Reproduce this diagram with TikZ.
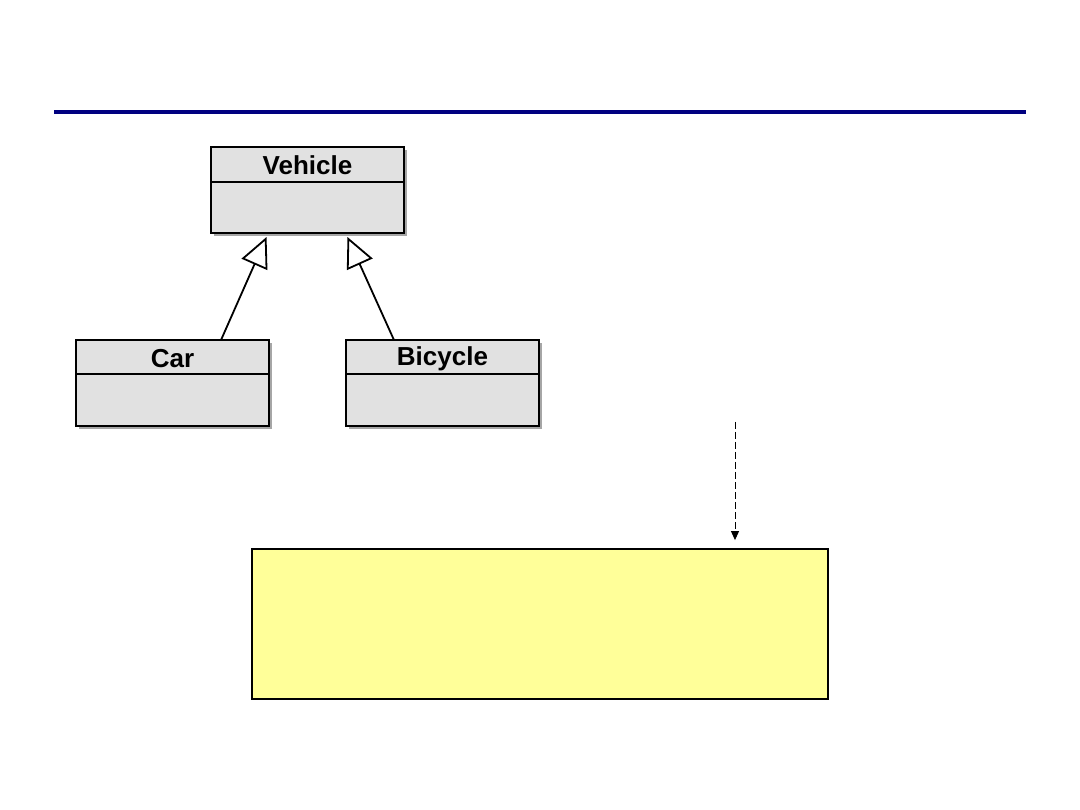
\documentclass[tikz,border=0pt]{standalone}
\usepackage{fontspec}
\setmainfont{Liberation Sans}
\usetikzlibrary{arrows.meta,calc,shadows}
\definecolor{navyline}{RGB}{0,0,128}
\definecolor{clsgray}{RGB}{225,225,225}
\definecolor{noteyellow}{RGB}{255,255,153}
\tikzset{
  cls/.style={draw=black, line width=2pt, fill=clsgray, minimum width=193pt, minimum height=86pt, inner sep=0pt,
    drop shadow={shadow xshift=3pt, shadow yshift=-3pt, opacity=0.35, fill=black}},
  clstitle/.style={font=\fontsize{26}{29}\selectfont\bfseries, inner sep=0pt, anchor=center},
  divider/.style={line width=2pt},
  inherit/.style={line width=1.8pt, -{Triangle[open, length=30pt, width=28pt, fill=white]}},
  notearrow/.style={line width=0.9pt, dash pattern=on 7pt off 3pt, -{Triangle[length=9pt, width=8pt]}},
  note/.style={draw=black, line width=1.8pt, fill=noteyellow, minimum width=576pt, minimum height=150pt, inner sep=0pt}
}
\begin{document}
\begin{tikzpicture}[x=1pt,y=-1pt]
\useasboundingbox (0,0) rectangle (1080,810);
% title rule
\fill[navyline] (54,110) rectangle (1026,114.5);
% Vehicle
\node[cls] (veh) at (307.5,190) {};
\node[clstitle] (vehT) at ($(veh.north)+(0,19)$) {Vehicle};
\draw[divider] ($(veh.north west)+(0,36)$) -- ($(veh.north east)+(0,36)$);
% Car
\node[cls] (car) at (172.5,383.5) {};
\node[clstitle] (carT) at ($(car.north)+(0,19)$) {Car};
\draw[divider] ($(car.north west)+(0,35)$) -- ($(car.north east)+(0,35)$);
% Bicycle
\node[cls] (bic) at (442.5,383.5) {};
\node[clstitle] (bicT) at ($(bic.north)+(0,19)$) {Bicycle};
\draw[divider] ($(bic.north west)+(0,35)$) -- ($(bic.north east)+(0,35)$);
% generalisations
\draw[inherit] ($(car.north west)!0.75!(car.north east)$) -- ($(veh.south west)!0.29!(veh.south east)+(0,3)$);
\draw[inherit] ($(bic.north west)!0.25!(bic.north east)$) -- ($(veh.south west)!0.705!(veh.south east)+(0,3)$);
% note
\node[note] (nt) at (540,624) {};
\coordinate (src) at (735,422);
\draw[notearrow] (src) -- (src |- nt.north) [shorten >=8pt];
\end{tikzpicture}
\end{document}
